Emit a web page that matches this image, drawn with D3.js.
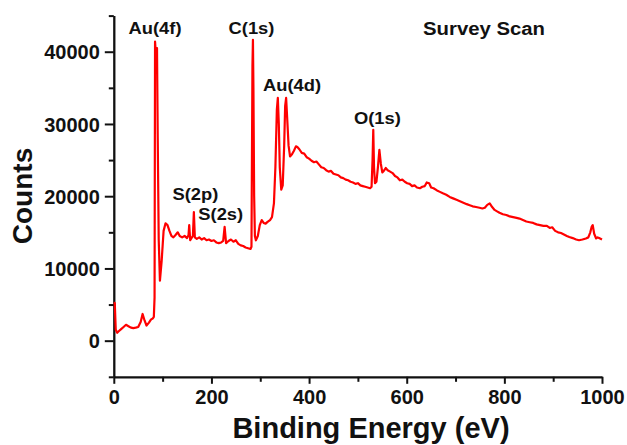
<!DOCTYPE html>
<html>
<head>
<meta charset="utf-8">
<script src="https://cdn.jsdelivr.net/npm/d3@7"></script>
<style>
  html, body { margin: 0; padding: 0; background: #fff; }
  svg { display: block; }
  text { font-family: "Liberation Sans", Arial, sans-serif; font-weight: bold; fill: #111; }
</style>
</head>
<body>
<svg id="chart" width="627" height="445"></svg>
<script>
// XPS survey spectrum: binding energy (eV) and counts
const energy = [
  0, 2, 4, 7, 10, 15, 20, 25, 30, 35, 40, 45, 50, 55, 59, 63, 67, 72, 76, 80,
  82, 83.5, 84.5, 86.5, 88.5, 90, 92, 94.5, 98, 102, 106, 110, 114, 118, 122, 126,
  131, 135, 140, 145, 150, 153, 154.5, 156.5, 160, 162, 164, 166, 170, 175, 180, 185,
  190, 195, 200, 205, 210, 215, 220, 224, 227, 230, 235, 240, 245, 250, 255, 260,
  265, 270, 275, 280, 282, 284, 285, 286, 287.5, 289, 291, 295, 299, 303, 307, 311,
  315, 320, 324, 328, 331, 334, 336, 338, 340, 343, 346, 349, 351, 353, 355, 358,
  361, 365, 369, 373, 376, 380, 385, 390, 395, 400, 405, 410, 415, 420, 425, 430,
  435, 440, 445, 450, 455, 460, 465, 470, 475, 480, 485, 490, 495, 500, 505, 510,
  515, 520, 525, 528, 530, 531.5, 533, 535, 538, 541, 544, 547, 550, 553, 557, 561,
  566, 571, 576, 581, 586, 591, 596, 601, 606, 611, 616, 621, 627, 632, 637, 641,
  646, 650, 655, 662, 668, 674, 681, 688, 695, 702, 709, 716, 723, 729, 735, 742,
  749, 755, 760, 765, 770, 775, 780, 785, 790, 797, 804, 811, 818, 825, 831, 838,
  845, 852, 859, 866, 873, 880, 887, 893, 898, 904, 910, 916, 922, 928, 933, 940,
  947, 953, 960, 967, 972, 976, 979, 981, 984, 988, 991, 994, 997, 1000
];
const counts = [
  5300, 5200, 1500, 1100, 1300, 1600, 1900, 2200, 2000, 1800, 1750, 1800, 1900, 2600, 3700, 2800, 2100, 2500, 2900, 3100,
  3300, 6000, 41400, 39300, 40500, 28000, 14000, 8300, 11000, 15200, 16250, 16000, 15200, 14500, 14300, 14600,
  15000, 14500, 14300, 14500, 14200, 14600, 16000, 13900, 14300, 14500, 17800, 14300, 14100, 14300, 14000, 14200,
  13900, 14000, 13800, 13900, 13600, 13500, 13600, 13800, 15750, 13500, 13800, 14000, 13700, 13900, 13400, 13200,
  13100, 12900, 12800, 12700, 13000, 38000, 41650, 35000, 20000, 14500, 13900, 14500, 16000, 16700, 16300, 16200,
  16450, 16700, 17100, 19000, 24000, 32000, 33600, 30000, 24000, 20900, 21500, 27000, 32500, 33600, 31000, 27000,
  25500, 25800, 26300, 26900, 26800, 26500, 26000, 25900, 25400, 25200, 24900, 24700, 24800, 24400, 24000, 23900,
  23600, 23400, 23500, 23100, 23000, 22900, 22600, 22500, 22300, 22200, 22000, 21900, 21700, 21800, 21500, 21400,
  21300, 21200, 21100, 21300, 25000, 29200, 24000, 21800, 22000, 24000, 26400, 24500, 23300, 23500, 23900, 23600,
  23400, 23200, 22800, 22600, 22200, 22300, 22000, 21800, 21700, 21400, 21500, 21200, 21100, 21300, 21400, 21900,
  21800, 21200, 21100, 20800, 20600, 20400, 20200, 19900, 19700, 19500, 19300, 19100, 18900, 18750, 18600, 18500,
  18400, 18300, 18400, 18800, 19000, 18500, 18100, 17900, 17700, 17500, 17400, 17200, 17100, 17000, 16900, 16700,
  16500, 16400, 16300, 16100, 16000, 15900, 15900, 15600, 15700, 15200, 15000, 14900, 14700, 14500, 14350, 14200,
  14000, 13900, 14000, 14150, 14300, 15000, 15800, 16000, 14800, 14150, 14300, 14200, 14100, 14000
];

// Axis ticks
const xMajor = [0, 200, 400, 600, 800, 1000];
const xMinor = [100, 300, 500, 700, 900];
const yMajor = [0, 10000, 20000, 30000, 40000];
const yMinor = [-5000, 5000, 15000, 25000, 35000, 45000];

// Peak annotations: label, label centre (eV), baseline (counts)
const peakLabels = ["Au(4f)", "C(1s)", "Au(4d)", "O(1s)", "S(2p)", "S(2s)"];
const peakEnergy = [84.5, 282, 365, 540, 167, 219];
const peakCounts = [42500, 42500, 34500, 30000, 19450, 16700];

const svg = d3.select("#chart");

const x = d3.scaleLinear().domain([0, 1000]).range([113.8, 602]);
const y = d3.scaleLinear().domain([-5000, 45000]).range([376.8, 15.6]);

// Minor ticks first so the axis lines sit on top
svg.append("g")
  .attr("transform", `translate(0,${y(-5000)})`)
  .call(d3.axisBottom(x).tickValues(xMinor).tickSize(5).tickSizeOuter(0).tickFormat(""))
  .call(g => g.select(".domain").remove())
  .call(g => g.selectAll("line").attr("stroke", "#111").attr("stroke-width", 2));

svg.append("g")
  .attr("transform", `translate(${x(0)},0)`)
  .call(d3.axisLeft(y).tickValues(yMinor).tickSize(5).tickSizeOuter(0).tickFormat(""))
  .call(g => g.select(".domain").remove())
  .call(g => g.selectAll("line").attr("stroke", "#111").attr("stroke-width", 2));

const xAxis = svg.append("g")
  .attr("transform", `translate(0,${y(-5000)})`)
  .call(d3.axisBottom(x).tickValues(xMajor).tickSize(7).tickSizeOuter(0).tickPadding(6).tickFormat(d3.format("d")));

const yAxis = svg.append("g")
  .attr("transform", `translate(${x(0)},0)`)
  .call(d3.axisLeft(y).tickValues(yMajor).tickSize(9).tickSizeOuter(0).tickPadding(5).tickFormat(d3.format("d")));

[xAxis, yAxis].forEach(g => {
  g.select(".domain").attr("stroke", "#111").attr("stroke-width", 2.3);
  g.selectAll(".tick line").attr("stroke", "#111").attr("stroke-width", 2);
  g.selectAll(".tick text")
    .attr("font-family", "Liberation Sans, Arial, sans-serif")
    .attr("font-weight", "bold")
    .attr("font-size", 20)
    .attr("fill", "#111");
});
yAxis.selectAll(".tick text").attr("dy", "0.36em");

// Spectrum trace
const points = energy.map((e, i) => [e, counts[i]]);
svg.append("path")
  .datum(points)
  .attr("fill", "none")
  .attr("stroke", "#f00")
  .attr("stroke-width", 2.2)
  .attr("stroke-linejoin", "round")
  .attr("d", d3.line().x(d => x(d[0])).y(d => y(d[1])));

// Peak labels, slightly widened bold type
svg.append("g").selectAll("text")
  .data(peakLabels)
  .join("text")
  .attr("transform", (d, i) => `translate(${x(peakEnergy[i])},${y(peakCounts[i])}) scale(1.08,1)`)
  .attr("text-anchor", "middle")
  .attr("font-size", 17)
  .text(d => d);

// Title
svg.append("text")
  .attr("transform", "translate(484,35) scale(1.13,1)")
  .attr("text-anchor", "middle")
  .attr("font-size", 18)
  .text("Survey Scan");

// Axis titles
svg.append("text")
  .attr("x", 371).attr("y", 438)
  .attr("text-anchor", "middle")
  .attr("font-size", 29)
  .text("Binding Energy (eV)");

svg.append("text")
  .attr("transform", "translate(32,196) rotate(-90)")
  .attr("text-anchor", "middle")
  .attr("font-size", 28)
  .text("Counts");
</script>
</body>
</html>
